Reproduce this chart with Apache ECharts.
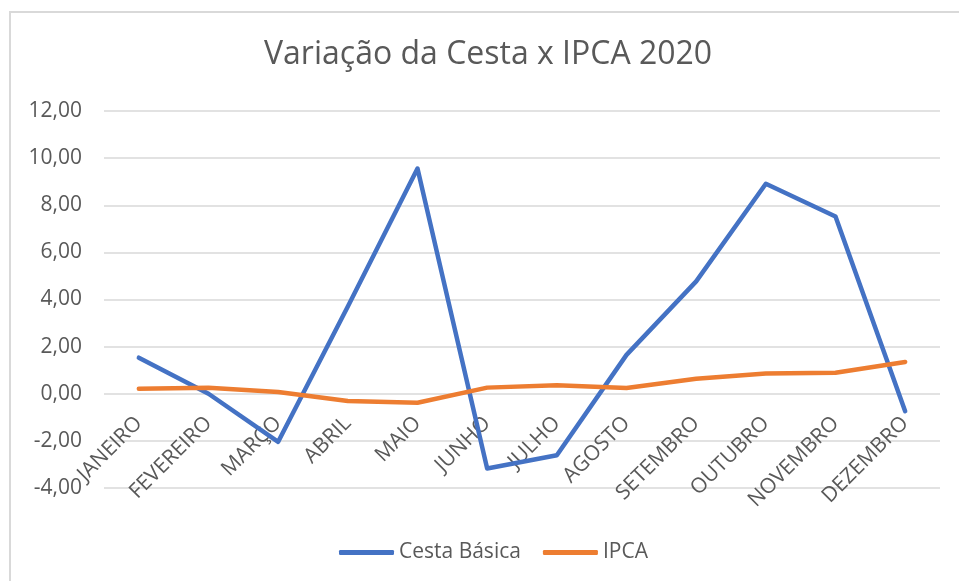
<!DOCTYPE html>
<html lang="pt-BR">
<head>
    <meta charset="UTF-8">
    <title>Variação da Cesta x IPCA 2020</title>
    <script src="https://cdn.jsdelivr.net/npm/echarts@6.0.0/dist/echarts.min.js"></script>
    <style>
        * { margin: 0; padding: 0; box-sizing: border-box; }
        body { background: #fff; }
        #chart { width: 959px; height: 581px; }
    </style>
</head>
<body>
<div id="chart"></div>
<script>
    // dados
    const meses = ['JANEIRO', 'FEVEREIRO', 'MARÇO', 'ABRIL', 'MAIO', 'JUNHO',
        'JULHO', 'AGOSTO', 'SETEMBRO', 'OUTUBRO', 'NOVEMBRO', 'DEZEMBRO'];
    const cestaBasica = [1.53, 0.0, -2.04, 3.7, 9.56, -3.17, -2.61, 1.65, 4.77, 8.91, 7.52, -0.74];
    const ipca = [0.21, 0.25, 0.07, -0.31, -0.38, 0.26, 0.36, 0.24, 0.64, 0.86, 0.89, 1.35];
    const yMin = -4, yMax = 12, yStep = 2;

    const fonte = '"Open Sans", Lato, sans-serif';
    const cinza = '#595959';

    let myChart = echarts.init(document.getElementById('chart'));

    let option = {
        animation: false,
        textStyle: {fontFamily: fonte},
        title: {
            text: 'Variação da Cesta x IPCA 2020',
            left: 259,
            top: 34,
            textStyle: {fontFamily: fonte, fontSize: 32, fontWeight: 'normal', color: cinza}
        },
        graphic: [{
            type: 'rect',
            shape: {x: 10, y: 12, width: 1000, height: 700},
            style: {fill: 'none', stroke: '#d9d9d9', lineWidth: 2},
            silent: true
        }],
        legend: {
            top: 537,
            left: 334,
            itemWidth: 55,
            itemHeight: 5,
            itemGap: 22,
            icon: 'roundRect',
            textStyle: {fontFamily: fonte, fontSize: 21, color: cinza},
            data: ['Cesta Básica', 'IPCA']
        },
        grid: {left: 104, right: 19, top: 111, bottom: 93},
        xAxis: {
            type: 'category',
            data: meses,
            boundaryGap: true,
            // rótulos presos à linha do zero
            axisLine: {show: false, onZero: false},
            offset: -94,
            axisTick: {show: false},
            axisLabel: {
                rotate: 45,
                margin: 26,
                interval: 0,
                fontFamily: fonte,
                fontSize: 21,
                color: cinza
            }
        },
        yAxis: {
            type: 'value',
            min: yMin,
            max: yMax,
            interval: yStep,
            axisLine: {show: false},
            axisTick: {show: false},
            axisLabel: {
                margin: 22,
                fontFamily: fonte,
                fontSize: 21,
                color: cinza,
                formatter: function (v) {
                    return v.toFixed(2).replace('.', ',');
                }
            },
            splitLine: {lineStyle: {color: '#d9d9d9', width: 1.5}}
        },
        series: [
            criaSerie('Cesta Básica', cestaBasica, '#4472C4'),
            criaSerie('IPCA', ipca, '#ED7D31')
        ]
    };

    function criaSerie(nome, valores, cor) {
        return {
            name: nome,
            type: 'line',
            data: valores,
            color: cor,
            symbol: 'none',
            showSymbol: false,
            lineStyle: {width: 4.5, color: cor, cap: 'round', join: 'round'}
        };
    }

    myChart.setOption(option);
</script>
</body>
</html>
